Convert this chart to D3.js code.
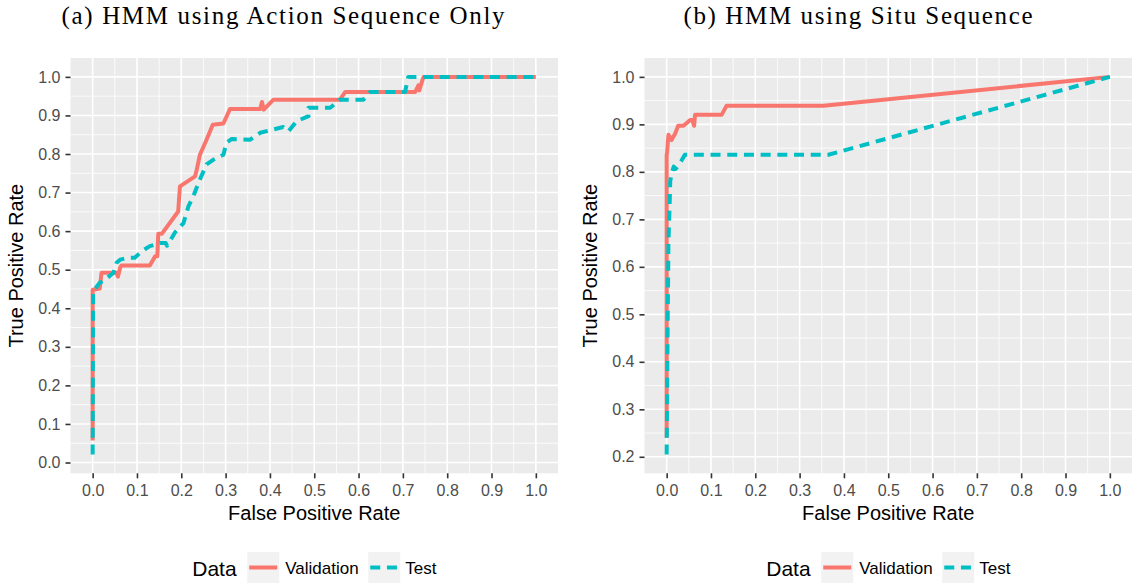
<!DOCTYPE html>
<html>
<head>
<meta charset="utf-8">
<script src="https://cdn.jsdelivr.net/npm/d3@7"></script>
<style>
  body { margin: 0; background: #ffffff; }
  svg { display: block; }
</style>
</head>
<body>
<svg id="chart" width="1134" height="584"></svg>
<script>
// ROC curves: [false positive rate, true positive rate]
const actionValidation = [
  [0, 0.057], [0, 0.448], [0.016, 0.451], [0.020, 0.492], [0.054, 0.492],
  [0.057, 0.482], [0.062, 0.505], [0.065, 0.511], [0.129, 0.511], [0.141, 0.535],
  [0.146, 0.535], [0.148, 0.593], [0.156, 0.593], [0.193, 0.651], [0.197, 0.716],
  [0.231, 0.742], [0.235, 0.760], [0.242, 0.798], [0.257, 0.837], [0.271, 0.876],
  [0.295, 0.879], [0.310, 0.917], [0.378, 0.917], [0.382, 0.935], [0.386, 0.915],
  [0.408, 0.941], [0.558, 0.941], [0.570, 0.961], [0.728, 0.961], [0.735, 0.978],
  [0.737, 0.965], [0.745, 0.995], [0.747, 1.0], [1.0, 1.0]
];
const actionTest = [
  [0, 0.021], [0.001, 0.444], [0.016, 0.466], [0.028, 0.474], [0.047, 0.492],
  [0.054, 0.518], [0.062, 0.526], [0.080, 0.531], [0.095, 0.531], [0.111, 0.548],
  [0.129, 0.561], [0.152, 0.569], [0.165, 0.569], [0.168, 0.562], [0.186, 0.597],
  [0.205, 0.621], [0.216, 0.664], [0.227, 0.690], [0.242, 0.734], [0.257, 0.773],
  [0.272, 0.785], [0.295, 0.798], [0.302, 0.829], [0.314, 0.839], [0.355, 0.837],
  [0.378, 0.855], [0.430, 0.870], [0.442, 0.859], [0.460, 0.885], [0.487, 0.898],
  [0.487, 0.920], [0.536, 0.920], [0.558, 0.941], [0.611, 0.941], [0.626, 0.961],
  [0.705, 0.961], [0.712, 1.0], [1.0, 1.0]
];
const situValidation = [
  [0, 0.24], [0, 0.836], [0.001, 0.84], [0.004, 0.878], [0.011, 0.867],
  [0.015, 0.874], [0.019, 0.880], [0.026, 0.897], [0.038, 0.897], [0.053, 0.909],
  [0.058, 0.909], [0.062, 0.897], [0.064, 0.920], [0.124, 0.920], [0.135, 0.939],
  [0.354, 0.939], [1.0, 1.0]
];
const situTest = [
  [0, 0.205], [0.002, 0.45], [0.004, 0.65], [0.007, 0.74], [0.008, 0.78],
  [0.012, 0.80], [0.016, 0.811], [0.020, 0.806], [0.030, 0.818], [0.041, 0.836],
  [0.365, 0.836], [1.0, 1.0]
];

const xTicks = [0, 0.1, 0.2, 0.3, 0.4, 0.5, 0.6, 0.7, 0.8, 0.9, 1.0];
const yTicksAction = [0, 0.1, 0.2, 0.3, 0.4, 0.5, 0.6, 0.7, 0.8, 0.9, 1.0];
const yTicksSitu = [0.2, 0.3, 0.4, 0.5, 0.6, 0.7, 0.8, 0.9, 1.0];
const seriesNames = ["Validation", "Test"];
const seriesColors = ["#F8766D", "#00BFC4"];
const titles = ["(a) HMM using Action Sequence Only", "(b) HMM using Situ Sequence"];

const svg = d3.select("#chart");
const sans = "'Liberation Sans', Arial, sans-serif";
const serif = "'Liberation Serif', 'Times New Roman', serif";

// ggplot-style 5% expansion of a continuous range
function expand(lo, hi) {
  const p = (hi - lo) * 0.05;
  return [lo - p, hi + p];
}

function drawPanel(opts) {
  const { left, right, top, bottom, validation, test, yTicks, title, titleX, titleWidth } = opts;
  const all = validation.concat(test);
  const x = d3.scaleLinear()
    .domain(expand(d3.min(all, d => d[0]), d3.max(all, d => d[0])))
    .range([left, right]);
  const y = d3.scaleLinear()
    .domain(expand(d3.min(all, d => d[1]), d3.max(all, d => d[1])))
    .range([bottom, top]);

  const g = svg.append("g");

  g.append("rect")
    .attr("x", left).attr("y", top)
    .attr("width", right - left).attr("height", bottom - top)
    .attr("fill", "#EBEBEB");

  const xMinor = d3.pairs(xTicks).map(([a, b]) => (a + b) / 2);
  const yMinor = d3.pairs(yTicks).map(([a, b]) => (a + b) / 2);

  g.selectAll(".xminor").data(xMinor).enter().append("line")
    .attr("x1", d => x(d)).attr("x2", d => x(d))
    .attr("y1", top).attr("y2", bottom)
    .attr("stroke", "#ffffff").attr("stroke-width", 0.8);
  g.selectAll(".yminor").data(yMinor).enter().append("line")
    .attr("y1", d => y(d)).attr("y2", d => y(d))
    .attr("x1", left).attr("x2", right)
    .attr("stroke", "#ffffff").attr("stroke-width", 0.8);
  g.selectAll(".xmajor").data(xTicks).enter().append("line")
    .attr("x1", d => x(d)).attr("x2", d => x(d))
    .attr("y1", top).attr("y2", bottom)
    .attr("stroke", "#ffffff").attr("stroke-width", 1.6);
  g.selectAll(".ymajor").data(yTicks).enter().append("line")
    .attr("y1", d => y(d)).attr("y2", d => y(d))
    .attr("x1", left).attr("x2", right)
    .attr("stroke", "#ffffff").attr("stroke-width", 1.6);

  // axes
  const xAxis = d3.axisBottom(x).tickValues(xTicks).tickFormat(d3.format(".1f"))
    .tickSize(5).tickPadding(6);
  const yAxis = d3.axisLeft(y).tickValues(yTicks).tickFormat(d3.format(".1f"))
    .tickSize(5).tickPadding(5);

  const gx = g.append("g").attr("transform", `translate(0,${bottom})`).call(xAxis);
  const gy = g.append("g").attr("transform", `translate(${left},0)`).call(yAxis);
  [gx, gy].forEach(a => {
    a.select(".domain").remove();
    a.selectAll(".tick line").attr("stroke", "#333333").attr("stroke-width", 1.6);
    a.selectAll(".tick text").attr("fill", "#4D4D4D")
      .style("font-family", sans).style("font-size", "16px");
  });

  // ROC lines
  const line = d3.line().x(d => x(d[0])).y(d => y(d[1]));
  g.append("path").datum(validation)
    .attr("d", line).attr("fill", "none")
    .attr("stroke", seriesColors[0]).attr("stroke-width", 4)
    .attr("stroke-linejoin", "round");
  g.append("path").datum(test)
    .attr("d", line).attr("fill", "none")
    .attr("stroke", seriesColors[1]).attr("stroke-width", 4)
    .attr("stroke-dasharray", "10,6.7")
    .attr("stroke-linejoin", "round");

  // axis titles
  const cx = (left + right) / 2;
  const cy = (top + bottom) / 2;
  g.append("text").text("False Positive Rate")
    .attr("x", cx).attr("y", 520).attr("text-anchor", "middle")
    .style("font-family", sans).style("font-size", "20px").attr("fill", "#000");
  g.append("text").text("True Positive Rate")
    .attr("transform", `translate(${left - 48},${cy}) rotate(-90)`)
    .attr("text-anchor", "middle")
    .style("font-family", sans).style("font-size", "20px").attr("fill", "#000");

  // subfigure caption
  g.append("text").text(title)
    .attr("x", titleX).attr("y", 24).attr("text-anchor", "middle")
    .attr("textLength", titleWidth).attr("lengthAdjust", "spacing")
    .style("font-family", serif).style("font-size", "25px").attr("fill", "#000");

  // legend
  const lg = g.append("g").attr("transform", `translate(${cx - 122},0)`);
  lg.append("text").text("Data").attr("x", 0).attr("y", 576)
    .style("font-family", sans).style("font-size", "21px").attr("fill", "#000");
  const keyX = [55, 176];
  const labX = [93, 213];
  seriesNames.forEach((name, i) => {
    lg.append("rect").attr("x", keyX[i]).attr("y", 552).attr("width", 32).attr("height", 31)
      .attr("fill", "#F2F2F2");
    lg.append("line")
      .attr("x1", keyX[i] + 2).attr("x2", keyX[i] + 30)
      .attr("y1", 567.5).attr("y2", 567.5)
      .attr("stroke", seriesColors[i]).attr("stroke-width", 4)
      .attr("stroke-dasharray", i === 1 ? "10,6.7" : null);
    lg.append("text").text(name).attr("x", labX[i]).attr("y", 574)
      .style("font-family", sans).style("font-size", "17px").attr("fill", "#000");
  });
}

drawPanel({
  left: 70.5, right: 558, top: 58, bottom: 473.3,
  validation: actionValidation, test: actionTest, yTicks: yTicksAction,
  title: titles[0], titleX: 283, titleWidth: 443
});
drawPanel({
  left: 644.5, right: 1132, top: 58, bottom: 473.3,
  validation: situValidation, test: situTest, yTicks: yTicksSitu,
  title: titles[1], titleX: 858, titleWidth: 349
});
</script>
</body>
</html>
